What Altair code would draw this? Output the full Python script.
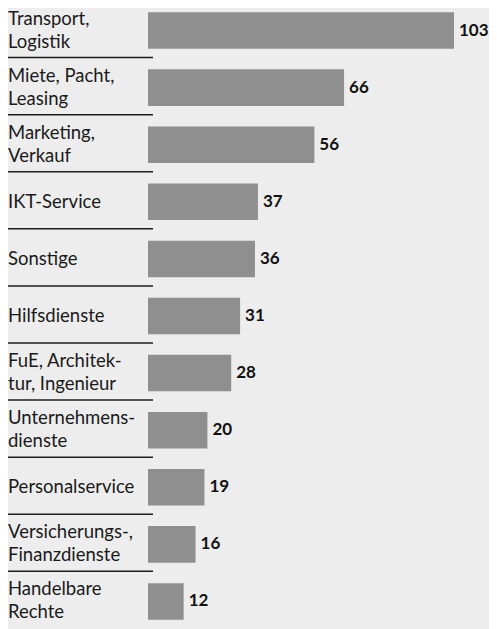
import altair as alt
import pandas as pd

categories = [
    "Transport,\nLogistik",
    "Miete, Pacht,\nLeasing",
    "Marketing,\nVerkauf",
    "IKT-Service",
    "Sonstige",
    "Hilfsdienste",
    "FuE, Architek-\ntur, Ingenieur",
    "Unternehmens-\ndienste",
    "Personalservice",
    "Versicherungs-,\nFinanzdienste",
    "Handelbare\nRechte",
]
values = [103, 66, 56, 37, 36, 31, 28, 20, 19, 16, 12]

df = pd.DataFrame({"cat": categories, "val": values, "idx": list(range(len(values)))})
df["two"] = df["cat"].str.contains("\n")

W, H = 481, 621
FONT = "Lato"

y = alt.Y("cat:N", sort=categories, axis=None,
          scale=alt.Scale(domain=categories, range=[-6, 622], paddingInner=0.36, paddingOuter=0.18))
x = alt.X("val:Q", axis=None, scale=alt.Scale(domain=[0, 103], range=[140, 446]))

base = alt.Chart(df)

bars = base.mark_bar(color="#8f8f8f").encode(x=x, y=y)

vals = base.mark_text(align="left", baseline="middle", dx=5, font=FONT, fontWeight="bold",
                      fontSize=17, color="#111111").encode(x=x, y=y, text="val:Q")

labels1 = base.transform_filter("!datum.two").mark_text(
    align="left", baseline="middle", font=FONT, fontSize=18.5, color="#1a1a1a").encode(
    x=alt.value(0), y=y, text="cat:N")

labels2 = base.transform_filter("datum.two").mark_text(
    align="left", baseline="middle", lineBreak="\n", lineHeight=23, dy=-12,
    font=FONT, fontSize=18.5, color="#1a1a1a").encode(
    x=alt.value(0), y=y, text="cat:N")

rules = base.transform_filter("datum.idx < 10").mark_rule(
    color="#1e1e1e", strokeWidth=1.5, yOffset=27).encode(
    x=alt.value(0), x2=alt.value(145), y=y)

chart = alt.layer(bars, vals, labels1, labels2, rules).properties(
    width=W, height=H, background="#ededed", padding=0, autosize="none"
).configure_view(stroke=None, fill="#ededed")

chart.save("out.html", embed_options={"renderer": "svg", "actions": False})
